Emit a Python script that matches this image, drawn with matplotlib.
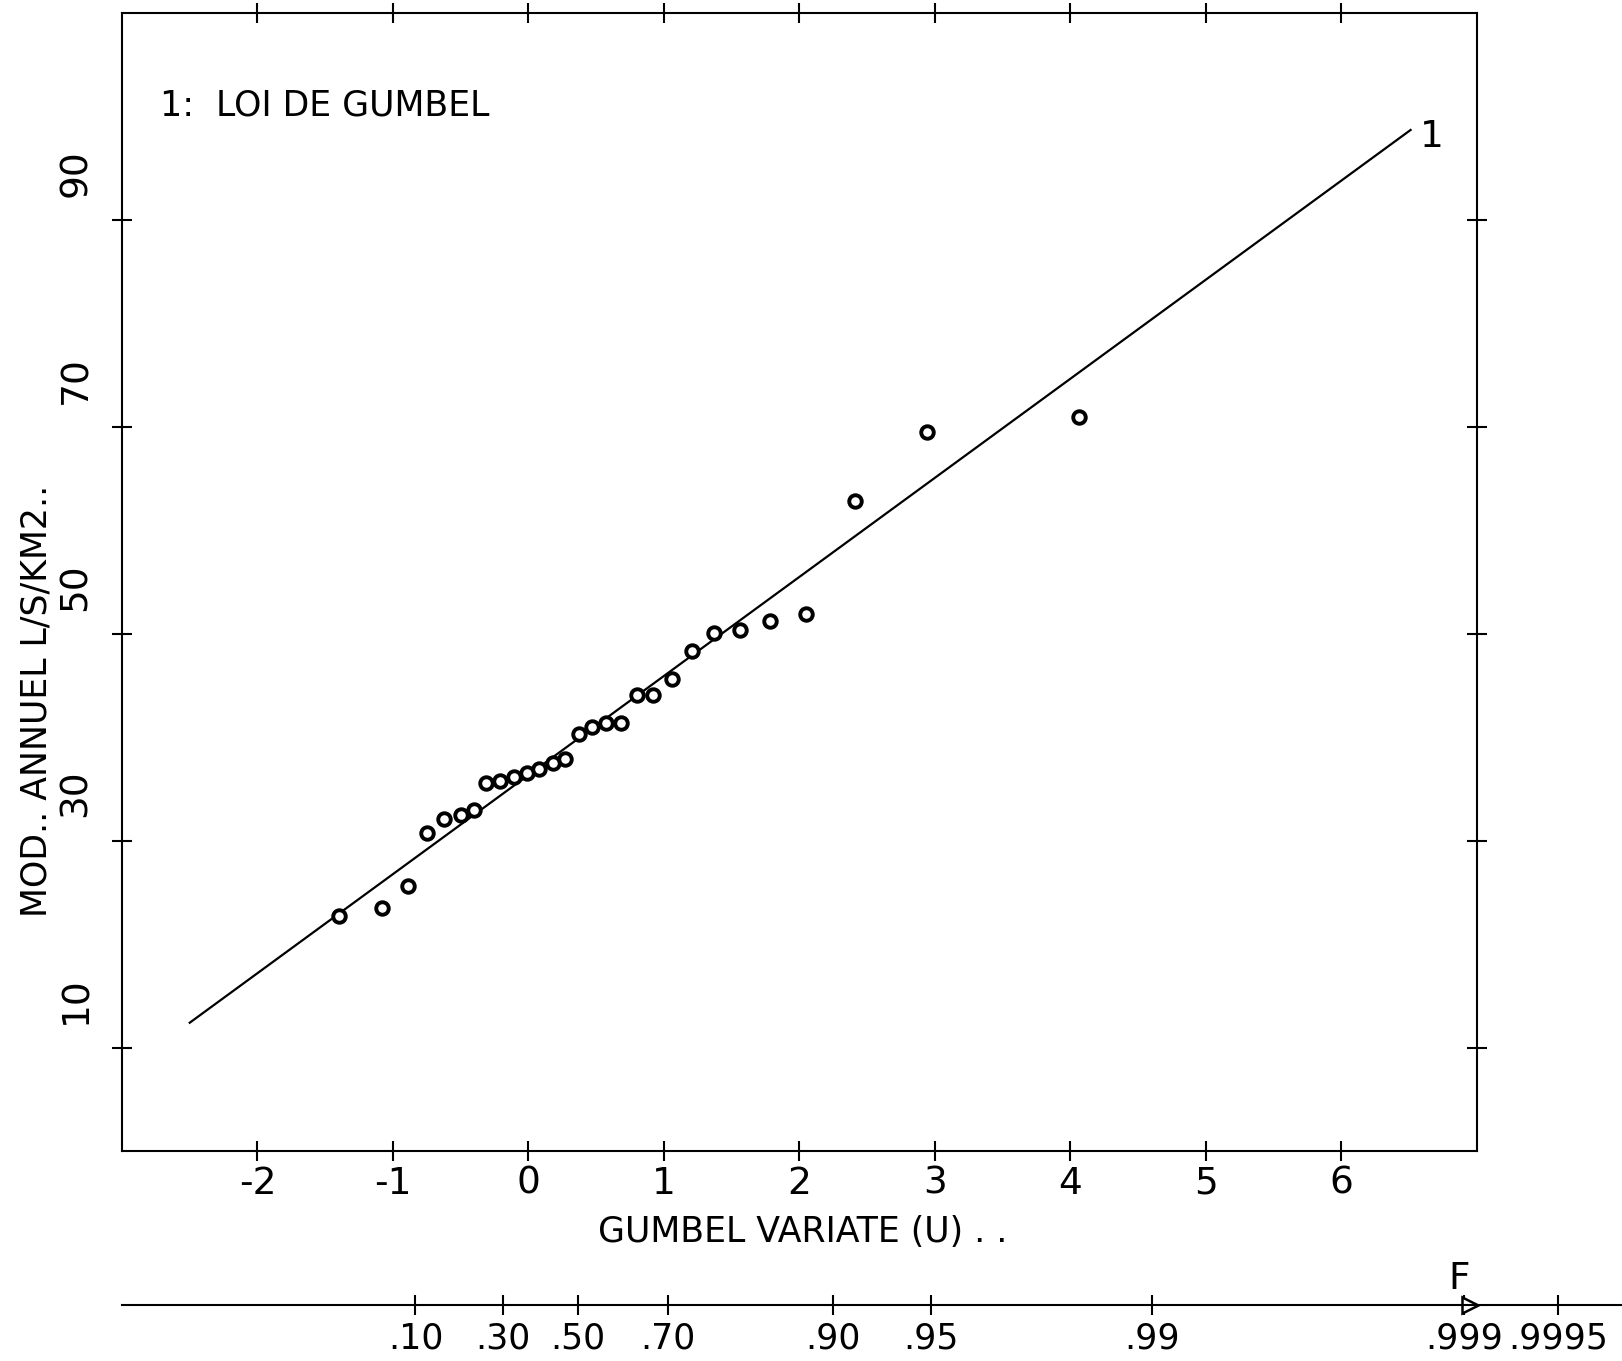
import numpy as np
import matplotlib
matplotlib.use("Agg")
import matplotlib.pyplot as plt
from matplotlib import transforms

# observed annual modulus vs gumbel reduced variate
u_obs = [-1.40, -1.08, -0.89, -0.75, -0.62, -0.50, -0.40, -0.31, -0.21, -0.11,
         -0.01, 0.08, 0.18, 0.27, 0.37, 0.47, 0.57, 0.68, 0.80, 0.92,
         1.06, 1.21, 1.37, 1.56, 1.78, 2.05, 2.41, 2.94, 4.06]
q_obs = [22.7, 23.5, 25.6, 30.7, 32.1, 32.5, 33.0, 35.6, 35.8, 36.2,
         36.5, 36.9, 37.5, 37.9, 40.3, 41.0, 41.4, 41.4, 44.1, 44.1,
         45.6, 48.3, 50.1, 50.4, 51.2, 51.9, 62.8, 69.5, 71.0]

# fitted law 1 (gumbel), end points of the drawn line
fit_u = [-2.5, 6.51]
fit_q = [12.4, 98.7]

u_ticks = [-2, -1, 0, 1, 2, 3, 4, 5, 6]
u_labels = ["-2", "-1", "0", "1", "2", "3", "4", "5", "6"]
q_ticks = [10, 30, 50, 70, 90]
q_labels = ["10", "30", "50", "70", "90"]
f_ticks = [0.10, 0.30, 0.50, 0.70, 0.90, 0.95, 0.99, 0.999, 0.9995]
f_labels = [".10", ".30", ".50", ".70", ".90", ".95", ".99", ".999", ".9995"]

plt.rcParams['font.family'] = ['DejaVu Sans']
FS = 25

fig = plt.figure(figsize=(16.22, 13.61), dpi=100)
ax = fig.add_axes([0.0752, 0.1543, 0.8354, 0.8361])

ax.plot(fit_u, fit_q, color='black', lw=1.6)
ax.plot(u_obs, q_obs, 'o', ms=9, mfc='white', mec='black', mew=2.8)
ax.text(6.58, 98.0, "1", fontsize=FS + 2, ha='left', va='center')

ax.set_xlim(-3, 7)
ax.set_ylim(0, 110)
ax.set_xticks(u_ticks)
ax.set_xticklabels(u_labels)
ax.set_yticks(q_ticks)
ax.set_yticklabels([])
ax.tick_params(direction='inout', length=15, width=1.5, top=True, right=True,
               labelsize=FS + 2, pad=3)
for s in ax.spines.values():
    s.set_linewidth(1.5)

# y labels sit a bit above their ticks, as on the plotter output
off = transforms.offset_copy(ax.get_yaxis_transform(), fig=fig, x=0, y=47, units='dots')
for v, lab in zip(q_ticks, q_labels):
    ax.text(-0.034, v, lab, transform=off, rotation=90, fontsize=FS + 2,
            ha='center', va='center')

ax.set_xlabel("GUMBEL VARIATE (U) . .", fontsize=FS, va='center')
ax.xaxis.set_label_coords(0.502, -0.071)
ax.set_ylabel("MOD.. ANNUEL L/S/KM2..", fontsize=FS, va='center', ha='center')
ax.yaxis.set_label_coords(-0.063, 0.396)

ax.text(0.028, 0.919, "1:  LOI DE GUMBEL", transform=ax.transAxes,
        fontsize=FS, ha='left', va='center')

# probability scale below
ax2 = fig.add_axes([0.0752, 0.0411, 0.9248, 0.0001])
ax2.set_xlim(-3, -3 + 1500 / 135.5)
ax2.set_ylim(0, 1)
f_pos = [-np.log(-np.log(f)) for f in f_ticks]
ax2.set_xticks(f_pos)
ax2.set_xticklabels(f_labels)
ax2.set_yticks([])
for k in ['left', 'right', 'top']:
    ax2.spines[k].set_visible(False)
ax2.spines['bottom'].set_linewidth(1.5)
ax2.tick_params(direction='inout', length=15, width=1.5, labelsize=FS, pad=4)
ax2.plot([6.95], [0], marker='>', ms=12, mfc='white', mec='black', mew=1.8,
         clip_on=False)
ax2.text(6.87, 0, "F", fontsize=FS + 2, ha='center', va='bottom',
         transform=transforms.offset_copy(ax2.transData, fig=fig, x=0, y=8, units='dots'))

fig.savefig("out.png", dpi=100)
